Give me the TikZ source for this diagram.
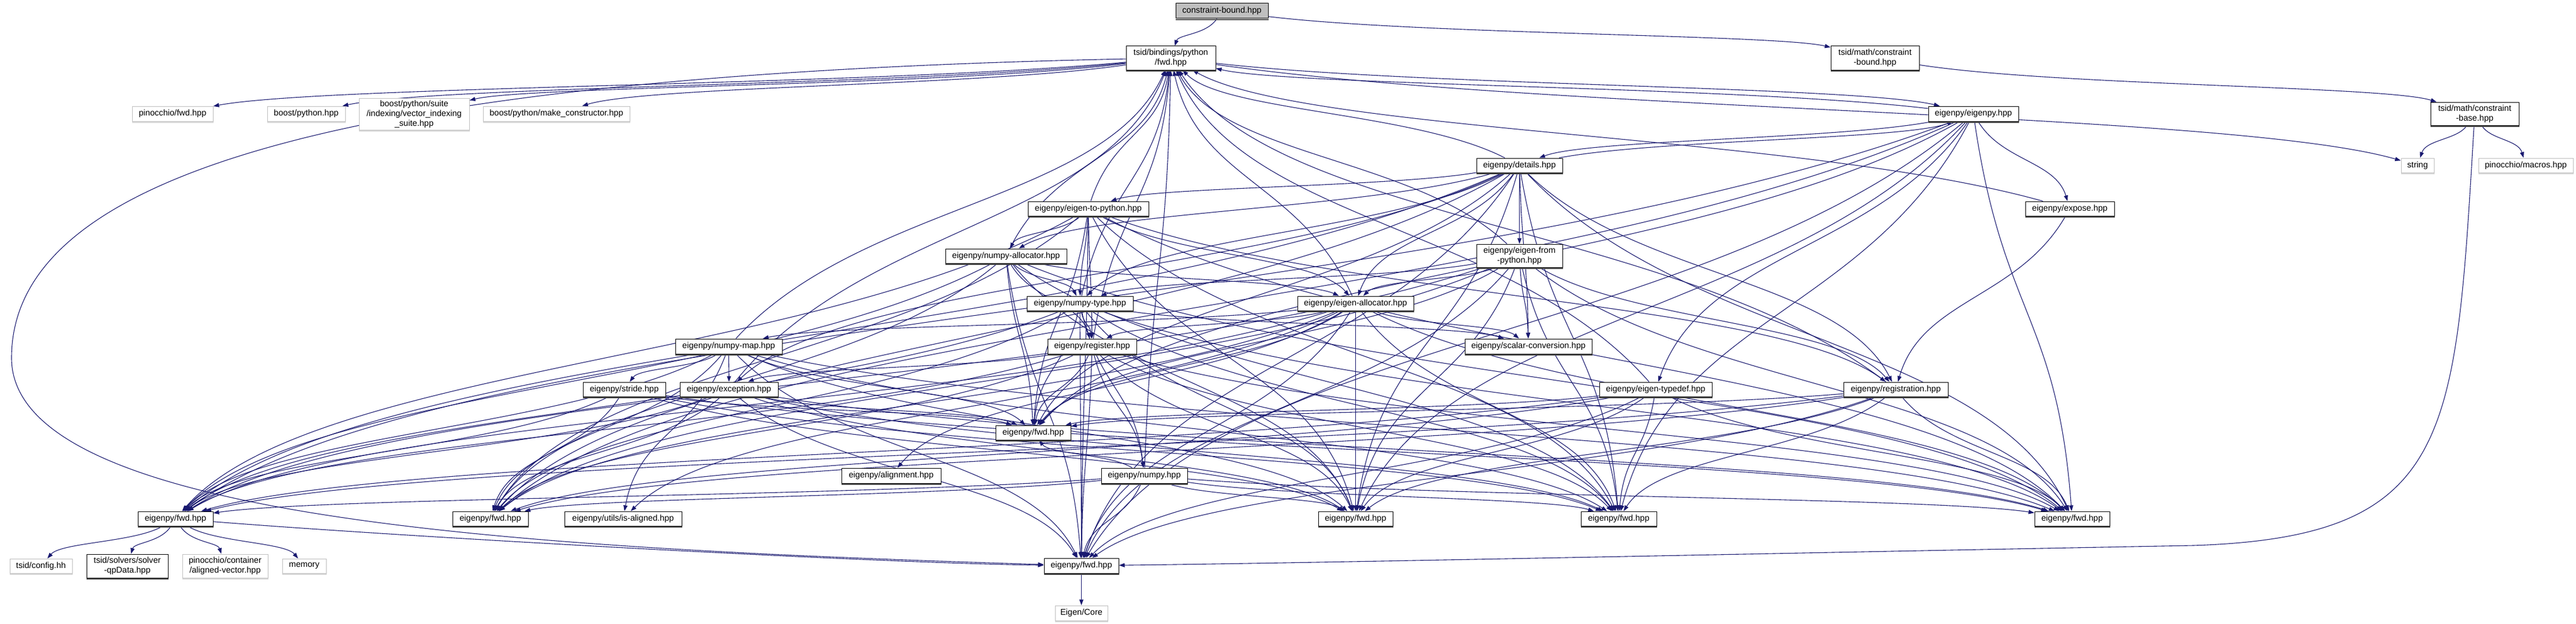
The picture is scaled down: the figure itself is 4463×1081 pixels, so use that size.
\documentclass[tikz,border=0pt]{standalone}
\usepackage{fontspec}
\setmainfont{Liberation Sans}
\usetikzlibrary{arrows.meta}
\definecolor{edgec}{HTML}{191970}
\definecolor{gry}{HTML}{BFBFBF}
\pgfdeclarelayer{bg}
\pgfsetlayers{bg,main}
\newdimen\myxa \newdimen\myya \newdimen\myxb \newdimen\myyb
\newcommand\bx[7]{%
  \node[#1, minimum width=#5pt, minimum height=#6pt] (#2) at (#3,#4) {#7};
  \draw[shadow#1] ([yshift=-1.2pt]#2.south west) -- ([yshift=-1.2pt]#2.south east);
}
\newcommand\cedge[2]{%
  \pgfextractx{\myxa}{\pgfpointanchor{#1}{center}}%
  \pgfextracty{\myya}{\pgfpointanchor{#1}{center}}%
  \pgfextractx{\myxb}{\pgfpointanchor{#2}{center}}%
  \pgfextracty{\myyb}{\pgfpointanchor{#2}{center}}%
  \pgfmathsetmacro\sxp{\myxa}\pgfmathsetmacro\syp{-\myya}%
  \pgfmathsetmacro\txp{\myxb}\pgfmathsetmacro\typ{-\myyb}%
  \pgfmathsetmacro\ddx{\txp-\sxp}\pgfmathsetmacro\ddy{\typ-\syp}%
  \pgfmathtruncatemacro\isflat{abs(\ddy)<30 ? 1 : 0}%
  \ifnum\isflat=1
    \draw[edge] (#1) -- (#2);
  \else
    \pgfmathsetmacro\kk{0.5*\ddy}%
    \pgfmathsetmacro\cax{\sxp+0.3*\ddx}\pgfmathsetmacro\cay{\syp+\kk}%
    \pgfmathsetmacro\cbx{\txp-0.15*\ddx}\pgfmathsetmacro\cby{\typ-\kk}%
    \draw[edge] (#1) .. controls (\cax,\cay) and (\cbx,\cby) .. (#2);
  \fi
}
\begin{document}
\begin{tikzpicture}[x=1pt,y=-1pt,
  box/.style={draw=black, line width=1pt, fill=white, inner sep=0pt, align=center,
    font=\fontsize{14.6}{17}\selectfont},
  ext/.style={box, draw=gry},
  root/.style={box, fill=gry},
  shadowbox/.style={line width=2.2pt, draw=black!70},
  shadowext/.style={line width=2.2pt, draw=black!15},
  shadowroot/.style={line width=2.2pt, draw=black!70},
  edge/.style={draw=edgec, line width=1.1pt, -{Triangle[length=10pt,width=7pt]}}]
\useasboundingbox (0,0) rectangle (4463,1081);
% nodes
\bx{root}{cb}{2117}{19}{160}{26}{constraint-bound.hpp}
\bx{box}{tfwd}{2028.5}{100.5}{155}{41}{tsid/bindings/python\\/fwd.hpp}
\bx{box}{mcb}{3248.5}{100.5}{153}{41}{tsid/math/constraint\\-bound.hpp}
\bx{ext}{pin}{299}{197}{140}{26}{pinocchio/fwd.hpp}
\bx{ext}{bp}{530.5}{197}{135}{26}{boost/python.hpp}
\bx{ext}{bvis}{717.5}{197.5}{191}{55}{boost/python/suite\\/indexing/vector\_indexing\\\_suite.hpp}
\bx{ext}{bmc}{964}{197}{254}{26}{boost/python/make\_constructor.hpp}
\bx{box}{eig}{3419}{197}{156}{26}{eigenpy/eigenpy.hpp}
\bx{box}{mbase}{4287.5}{197}{153}{40}{tsid/math/constraint\\-base.hpp}
\bx{ext}{str}{4188.5}{286.5}{57}{25}{string}
\bx{ext}{pmac}{4376}{286.5}{164}{25}{pinocchio/macros.hpp}
\bx{box}{det}{2632.5}{286.5}{149}{25}{eigenpy/details.hpp}
\bx{box}{e2p}{1885.5}{361.5}{209}{25}{eigenpy/eigen-to-python.hpp}
\bx{box}{exp}{3586}{361.5}{154}{25}{eigenpy/expose.hpp}
\bx{box}{nal}{1743}{443.5}{210}{25}{eigenpy/numpy-allocator.hpp}
\bx{box}{efp}{2632.5}{443}{149}{40}{eigenpy/eigen-from\\-python.hpp}
\bx{box}{nty}{1871}{525.5}{184}{25}{eigenpy/numpy-type.hpp}
\bx{box}{eal}{2348.5}{525.5}{201}{25}{eigenpy/eigen-allocator.hpp}
\bx{box}{nmap}{1262.5}{600}{185}{26}{eigenpy/numpy-map.hpp}
\bx{box}{reg}{1892}{600}{154}{26}{eigenpy/register.hpp}
\bx{box}{scv}{2648}{600}{220}{26}{eigenpy/scalar-conversion.hpp}
\bx{box}{strd}{1081.5}{674.5}{143}{25}{eigenpy/stride.hpp}
\bx{box}{exc}{1263}{674.5}{170}{25}{eigenpy/exception.hpp}
\bx{box}{etd}{2868.5}{674.5}{195}{25}{eigenpy/eigen-typedef.hpp}
\bx{box}{rgs}{3284.5}{674.5}{181}{25}{eigenpy/registration.hpp}
\bx{box}{fC}{1790}{749.5}{130}{25}{eigenpy/fwd.hpp}
\bx{box}{aln}{1544}{824}{172}{26}{eigenpy/alignment.hpp}
\bx{box}{npy}{1982.5}{824}{149}{26}{eigenpy/numpy.hpp}
\bx{box}{fA}{304}{898.5}{130}{25}{eigenpy/fwd.hpp}
\bx{box}{fB}{849.5}{898.5}{131}{25}{eigenpy/fwd.hpp}
\bx{box}{isal}{1079.5}{898.5}{203}{25}{eigenpy/utils/is-aligned.hpp}
\bx{box}{fE}{2348.5}{898.5}{129}{25}{eigenpy/fwd.hpp}
\bx{box}{fF}{2804.5}{898.5}{131}{25}{eigenpy/fwd.hpp}
\bx{box}{fD}{3590}{898.5}{130}{25}{eigenpy/fwd.hpp}
\bx{ext}{cfg}{71}{980.5}{108}{25}{tsid/config.hh}
\bx{box}{qp}{220.5}{980.5}{141}{41}{tsid/solvers/solver\\-qpData.hpp}
\bx{ext}{alv}{390}{980.5}{148}{41}{pinocchio/container\\/aligned-vector.hpp}
\bx{ext}{mem}{527}{980.5}{76}{25}{memory}
\bx{box}{fG}{1873.5}{980}{129}{26}{eigenpy/fwd.hpp}
\bx{ext}{core}{1873.5}{1062}{91}{26}{Eigen/Core}
% edges
\begin{pgfonlayer}{bg}
\fill[white] (0,0) rectangle (4463,1081);
\foreach \s/\t in {cb/tfwd, cb/mcb, tfwd/pin, tfwd/bp, tfwd/bvis, tfwd/bmc, tfwd/eig, tfwd/str,
  mcb/mbase, mbase/str, mbase/pmac,
  eig/det, eig/exp, eig/etd,
  det/eig, det/eal, det/efp, det/e2p, det/nty, det/rgs, det/scv, det/exc, det/nal,
  e2p/nal, e2p/nty, e2p/eal, e2p/rgs, e2p/reg,
  nal/nty, nal/eal, nal/reg,
  efp/eal, efp/nty, efp/scv, efp/rgs,
  nty/scv, nty/reg, nty/npy,
  eal/nmap, eal/scv, eal/reg, eal/isal, eal/aln,
  nmap/exc, nmap/strd, nmap/isal,
  reg/exc, reg/npy,
  exp/rgs, exp/tfwd,
  strd/fA, strd/fB, strd/fC, strd/fD, strd/fE, strd/fF,
  fA/cfg, fA/qp, fA/alv, fA/mem, fG/core}
  {\cedge{\s}{\t}}
\foreach \s in {eig,det,e2p,nal,efp,nty,eal,nmap,reg,exc,etd,rgs,npy}
  \foreach \t in {tfwd,fA,fB,fC,fD,fE,fF,fG}
    {\cedge{\s}{\t}}
% long routed edges
\draw[edge] (mbase) .. controls (4254,760) and (4250,930) .. (3800,945)
  .. controls (3000,960) and (2300,975) .. (fG);
\draw[edge] (tfwd) .. controls (600,130) and (20,300) .. (20,620)
  .. controls (20,900) and (900,950) .. (fG);
\draw[edge] (fA) .. controls (700,930) and (1500,975) .. (fG);
\end{pgfonlayer}
\end{tikzpicture}
\end{document}
